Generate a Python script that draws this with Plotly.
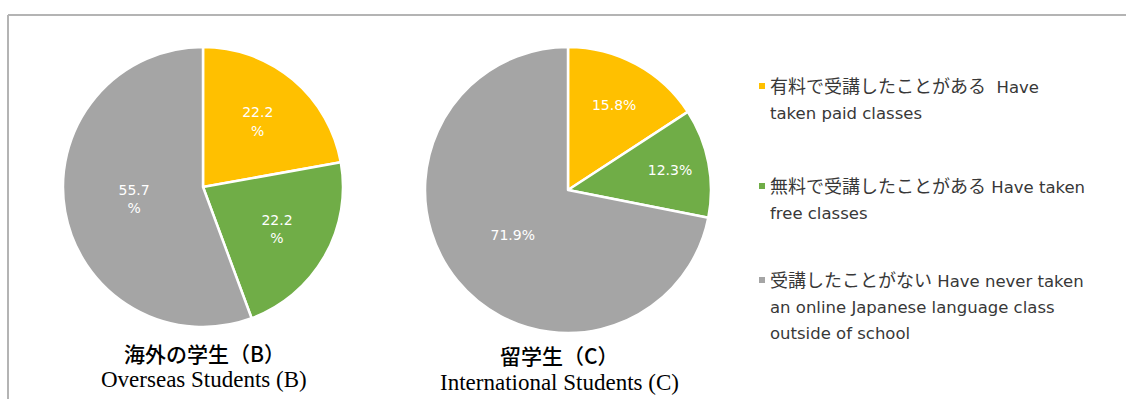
import plotly.graph_objects as go

# Response categories: Japanese wording and English wording
categories_jp = [
    "有料で受講したことがある",
    "無料で受講したことがある",
    "受講したことがない",
]
categories_en = [
    "  Have<br>taken paid classes",
    " Have taken<br>free classes",
    " Have never taken<br>an online Japanese language class<br>outside of school",
]
colors = ["#FFC000", "#70AD47", "#A5A5A5"]

# Share of respondents (%)
overseas_b = [22.2, 22.2, 55.7]
international_c = [15.8, 12.3, 71.9]

title_b_jp = "海外の学生（B）"
title_b_en = "Overseas Students (B)"
title_c_jp = "留学生（C）"
title_c_en = "International Students (C)"

W, H = 1126, 399


def px_x(x):
    return x / W


def px_y(y):
    return 1 - y / H


labels = [jp + en.replace("<br>", " ") for jp, en in zip(categories_jp, categories_en)]

fig = go.Figure()

common = dict(
    sort=False,
    direction="clockwise",
    rotation=0,
    textinfo="text",
    textposition="inside",
    insidetextorientation="horizontal",
    marker=dict(colors=colors, line=dict(color="white", width=2.5)),
    textfont=dict(family="DejaVu Sans, sans-serif", size=14, color="white"),
    showlegend=False,
    hoverinfo="label+value",
)

fig.add_trace(go.Pie(
    labels=labels,
    values=overseas_b,
    text=[f"{v}<br>%" for v in overseas_b],
    domain=dict(x=[px_x(63), px_x(343)], y=[px_y(327), px_y(47)]),
    **common,
))

fig.add_trace(go.Pie(
    labels=labels,
    values=international_c,
    text=[f"{v}%" for v in international_c],
    domain=dict(x=[px_x(425), px_x(711)], y=[px_y(333), px_y(47)]),
    **common,
))

annotations = []
shapes = []

# Frame lines (top and left)
shapes.append(dict(type="line", xref="paper", yref="paper",
                   x0=px_x(8), x1=1, y0=px_y(15), y1=px_y(15),
                   line=dict(color="#B4B4B4", width=2)))
shapes.append(dict(type="line", xref="paper", yref="paper",
                   x0=px_x(8), x1=px_x(8), y0=px_y(15), y1=0,
                   line=dict(color="#B4B4B4", width=2)))

# Pie captions
for cx, y_jp, y_en, jp, en in [
    (204, 353, 379, title_b_jp, title_b_en),
    (559, 355, 382, title_c_jp, title_c_en),
]:
    annotations.append(dict(x=px_x(cx), y=px_y(y_jp), xref="paper", yref="paper",
                            text=jp, showarrow=False, xanchor="center", yanchor="middle",
                            font=dict(family="Noto Sans CJK JP", size=21, color="#000000",
                                      weight=500)))
    annotations.append(dict(x=px_x(cx), y=px_y(y_en), xref="paper", yref="paper",
                            text=en, showarrow=False, xanchor="center", yanchor="middle",
                            font=dict(family="Liberation Serif", size=23, color="#000000")))

# Legend: colour swatch plus two-language label
legend_tops = [70, 170, 264]
for jp, en, col, top in zip(categories_jp, categories_en, colors, legend_tops):
    shapes.append(dict(type="rect", xref="paper", yref="paper",
                       x0=px_x(759), x1=px_x(765), y0=px_y(top + 13), y1=px_y(top + 19),
                       fillcolor=col, line=dict(width=0)))
    text = (f"<span style='font-family:Noto Sans CJK JP;font-size:18px'>{jp}</span>"
            f"<span style='font-size:16.5px'>{en}</span>")
    annotations.append(dict(x=px_x(768), y=px_y(top), xref="paper", yref="paper",
                            text=text, showarrow=False, xanchor="left", yanchor="top",
                            align="left",
                            font=dict(family="DejaVu Sans", size=20, color="#383838")))

fig.update_layout(
    width=W, height=H,
    margin=dict(l=0, r=0, t=0, b=0),
    paper_bgcolor="white",
    plot_bgcolor="white",
    shapes=shapes,
    annotations=annotations,
)

fig.write_html("out.html")
